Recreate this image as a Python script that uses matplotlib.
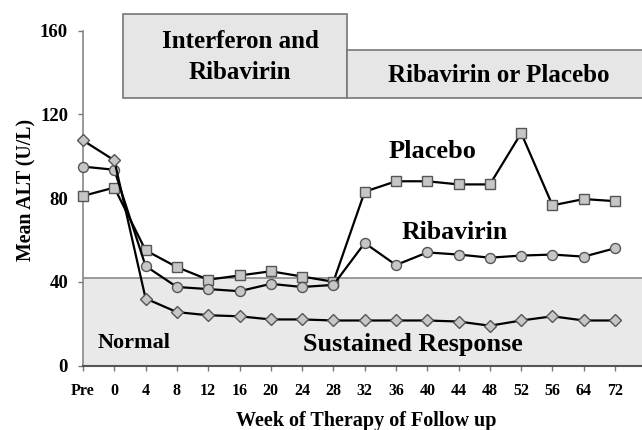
import matplotlib
matplotlib.use("Agg")
import matplotlib.pyplot as plt
from matplotlib.patches import Rectangle

plt.rcParams['font.family'] = ['Liberation Serif', 'DejaVu Serif']
plt.rcParams['font.weight'] = 'bold'

weeks = ["Pre", "0", "4", "8", "12", "16", "20", "24", "28", "32", "36",
         "40", "44", "48", "52", "56", "64", "72"]
placebo = [81, 85, 55, 47, 41, 43, 45, 42.5, 40, 83, 88, 88, 86.5, 86.5,
           111, 76.5, 79.5, 78.5]
ribavirin = [95, 93.5, 47.5, 37.5, 36.5, 35.5, 39, 37.5, 38.5, 58.5, 48,
             54, 53, 51.5, 52.5, 53, 52, 56]
sustained = [107.5, 98, 32, 25.5, 24, 23.5, 22, 22, 21.5, 21.5, 21.5, 21.5,
             21, 19, 21.5, 23.5, 21.5, 21.5]
normal_upper = 42
yticks = [0, 40, 80, 120, 160]

fig = plt.figure(figsize=(6.42, 4.30), dpi=100)
ax = fig.add_axes([0.1293, 0.15, 0.8707, 0.779])
x = list(range(len(weeks)))

xmax = 17.86
ax.set_xlim(0, xmax)
ax.set_ylim(0, 160)

# normal band
ax.axhspan(0, normal_upper, color='#e9e9e9', zorder=0)
ax.axhline(normal_upper, color='#8c8c8c', lw=1.2, zorder=1)

mk = dict(markerfacecolor='#c6c6c6', markeredgecolor='#555555',
          markeredgewidth=1.0, color='black', lw=1.6, zorder=3, clip_on=False)
ax.plot(x, placebo, marker='s', markersize=7.2, **mk)
ax.plot(x, ribavirin, marker='o', markersize=7.2, **mk)
ax.plot(x, sustained, marker='D', markersize=5.8, **mk)

# treatment boxes
box_kw = dict(facecolor='#e6e6e6', edgecolor='#777777', lw=1.2,
              clip_on=False, zorder=2)
ax.add_patch(Rectangle((1.28, 128), 8.43 - 1.28, 168 - 128, **box_kw))
ax.add_patch(Rectangle((8.43, 128), xmax - 8.43 + 0.5, 150.8 - 128, **box_kw))
ax.text(5.02, 154.8, "Interferon and", ha='center', va='center', fontsize=18,
        fontweight='bold', zorder=4)
ax.text(5.02, 139.8, "Ribavirin", ha='center', va='center', fontsize=18,
        fontweight='bold', zorder=4)
ax.text(13.29, 138.7, "Ribavirin or Placebo", ha='center', va='center',
        fontsize=18, fontweight='bold', zorder=4)

ax.text(11.18, 102, "Placebo", ha='center', va='center', fontsize=19,
        fontweight='bold')
ax.text(11.88, 63.3, "Ribavirin", ha='center', va='center', fontsize=18.5,
        fontweight='bold')
ax.text(1.63, 10.7, "Normal", ha='center', va='center', fontsize=16,
        fontweight='bold')
ax.text(10.54, 9.8, "Sustained Response", ha='center', va='center',
        fontsize=18.8, fontweight='bold')

ax.set_xticks(x)
ax.set_xticklabels(weeks, fontsize=11.5, fontweight='bold')
ax.set_yticks(yticks)
ax.set_yticklabels([str(v) for v in yticks], fontsize=13.5, fontweight='bold')
ax.tick_params(axis='both', direction='out', length=3.8, color='#777777',
               width=1.0)
ax.tick_params(axis='x', pad=9)
ax.tick_params(axis='y', pad=7)

for s in ['top', 'right']:
    ax.spines[s].set_visible(False)
ax.spines['left'].set_color('#888888')
ax.spines['bottom'].set_color('#555555')
ax.spines['left'].set_linewidth(1.2)
ax.spines['bottom'].set_linewidth(1.5)

ax.set_xlabel("Week of Therapy of Follow up", fontsize=14.5, fontweight='bold',
              va='center')
ax.xaxis.set_label_coords((366 - 83) / 559, (365.5 - 421) / 335)
ax.set_ylabel("Mean ALT (U/L)", fontsize=14.3, fontweight='bold', va='center')
ax.yaxis.set_label_coords((26 - 83) / 559, (365.5 - 190) / 335)

fig.savefig("out.png", dpi=100)
